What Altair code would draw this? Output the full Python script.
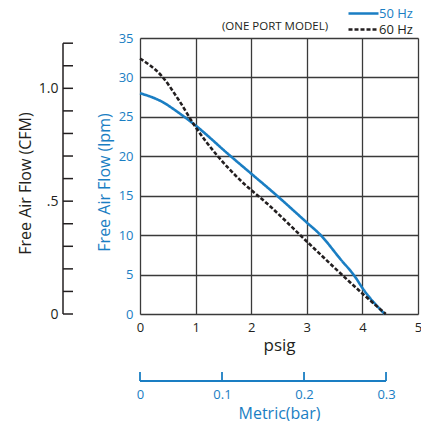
import altair as alt
import pandas as pd

BLUE = "#1a7ec3"
DARK = "#231f20"
FONT = "Open Sans"

# 50 Hz curve (psig, lpm)
psig_50 = [0, 0.4, 0.7, 1.0, 1.6, 2.1, 2.35, 3.0, 3.25, 3.6, 3.87, 4.0, 4.4]
lpm_50 = [28.0, 26.9, 25.5, 23.9, 20.2, 17.2, 15.7, 11.6, 10.0, 7.0, 4.7, 3.3, 0.0]
# 60 Hz curve (psig, lpm)
psig_60 = [0, 0.4, 0.7, 1.0, 1.4, 1.77, 2.35, 3.0, 4.0, 4.42]
lpm_60 = [32.4, 30.1, 27.1, 23.7, 20.0, 17.2, 13.6, 9.2, 2.6, 0.0]

series_names = ["50 Hz", "60 Hz"]
psig_ticks = [0, 1, 2, 3, 4, 5]
lpm_ticks = [0, 5, 10, 15, 20, 25, 30, 35]
cfm_ticks = [0, 0.1, 0.2, 0.3, 0.4, 0.5, 0.6, 0.7, 0.8, 0.9, 1.0, 1.1, 1.2]
cfm_labels = [0, 0.5, 1.0]
bar_ticks = [0, 0.1, 0.2, 0.3]
CFM_DOMAIN_MAX = 1.223   # 35 lpm expressed in CFM on this drawing
BAR_DOMAIN_MAX = 0.339   # 5 psig expressed in bar on this drawing
subtitle_text = ["(ONE PORT MODEL)"]

curves = pd.DataFrame(
    {"psig": psig_50 + psig_60,
     "lpm": lpm_50 + lpm_60,
     "series": [series_names[0]] * len(psig_50) + [series_names[1]] * len(psig_60)}
)

legend_props = dict(title=None, orient="none", legendX=216, legendY=-32,
                    symbolType="M-2.5,0H2.5", symbolSize=144, symbolStrokeWidth=2.6,
                    labelFontSize=13, labelFont=FONT, labelOffset=8, rowPadding=1,
                    labelColor={"expr": f"datum.value === '50 Hz' ? '{BLUE}' : '{DARK}'"})

lines = alt.Chart(curves).mark_line(strokeWidth=2.6, interpolate="monotone").encode(
    x=alt.X("psig:Q", scale=alt.Scale(domain=[0, 5], nice=False),
            axis=alt.Axis(values=psig_ticks, title="psig", grid=True, ticks=False, domain=False,
                          gridColor="#3a3a3a", gridWidth=1.3, labelColor=DARK, labelFontSize=13,
                          labelPadding=7, labelFont=FONT, titleFont=FONT, titleFontSize=17,
                          titleFontWeight="normal", titleColor=DARK, titlePadding=3, labelFlush=False)),
    y=alt.Y("lpm:Q", scale=alt.Scale(domain=[0, 35], nice=False),
            axis=alt.Axis(values=lpm_ticks, title="Free Air Flow (lpm)", grid=True, ticks=False,
                          domain=False, gridColor="#3a3a3a", gridWidth=1.3, labelColor=BLUE,
                          labelFontSize=13, labelPadding=7, labelFont=FONT, titleFont=FONT,
                          titleFontSize=16, titleFontWeight="normal", titleColor=BLUE,
                          titlePadding=6, titleY=144, labelFlush=False)),
    color=alt.Color("series:N", scale=alt.Scale(domain=series_names, range=[BLUE, DARK]),
                    legend=alt.Legend(**legend_props)),
    strokeDash=alt.StrokeDash("series:N", scale=alt.Scale(domain=series_names, range=[[1, 0], [4, 2]]),
                              legend=alt.Legend(**legend_props)),
)

subtitle = alt.Chart(pd.DataFrame({"t": subtitle_text})).mark_text(
    font=FONT, fontSize=11.5, color=DARK, align="center", baseline="middle"
).encode(text="t:N", x=alt.value(135), y=alt.value(-11))

# CFM secondary axis (left, outside)
cfm_df = pd.DataFrame({"cfm": cfm_ticks})
cfm_spine_df = pd.DataFrame({"cfm": [cfm_ticks[0]], "cfm2": [cfm_ticks[-1]]})
cfm_scale = alt.Scale(domain=[0, CFM_DOMAIN_MAX], nice=False)
cfm_tick_layer = alt.Chart(cfm_df).mark_rule(color=DARK, strokeWidth=1.5).encode(
    y=alt.Y("cfm:Q", scale=cfm_scale,
            axis=alt.Axis(orient="left", offset=77, values=cfm_labels, ticks=False, domain=False,
                          grid=False, labelExpr="datum.value == 0 ? '0' : datum.value == 0.5 ? '.5' : format(datum.value, '.1f')",
                          labelFontSize=14, labelColor=DARK, labelFont=FONT, labelPadding=5,
                          title="Free Air Flow (CFM)", titleFont=FONT, titleFontSize=16,
                          titleFontWeight="normal", titleColor=DARK, titlePadding=5, titleY=145)),
    x=alt.value(-77), x2=alt.value(-67),
)
cfm_spine_layer = alt.Chart(cfm_spine_df).mark_rule(color=DARK, strokeWidth=1.5).encode(
    y=alt.Y("cfm:Q", scale=cfm_scale), y2="cfm2:Q", x=alt.value(-77),
)
cfm_layer = alt.layer(cfm_tick_layer, cfm_spine_layer)

# Bar secondary axis (bottom, outside)
bar_df = pd.DataFrame({"bar": bar_ticks})
bar_spine_df = pd.DataFrame({"bar": [bar_ticks[0]], "bar2": [bar_ticks[-1]]})
bar_scale = alt.Scale(domain=[0, BAR_DOMAIN_MAX], nice=False)
bar_tick_layer = alt.Chart(bar_df).mark_rule(color=BLUE, strokeWidth=1.8).encode(
    x=alt.X("bar:Q", scale=bar_scale,
            axis=alt.Axis(orient="bottom", offset=67, values=bar_ticks, ticks=False, domain=False,
                          grid=False, labelExpr="datum.value == 0 ? '0' : format(datum.value, '.1f')",
                          labelFontSize=13, labelColor=BLUE, labelFont=FONT, labelPadding=7,
                          title="Metric(bar)", titleFont=FONT, titleFontSize=16,
                          titleFontWeight="normal", titleColor=BLUE, titlePadding=4, labelFlush=False)),
    y=alt.value(334), y2=alt.value(343),
)
bar_spine_layer = alt.Chart(bar_spine_df).mark_rule(color=BLUE, strokeWidth=1.8).encode(
    x=alt.X("bar:Q", scale=bar_scale), x2="bar2:Q", y=alt.value(343),
)
bar_layer = alt.layer(bar_tick_layer, bar_spine_layer)

chart = alt.layer(lines, subtitle, cfm_layer, bar_layer).resolve_scale(
    x="independent", y="independent"
).properties(
    width=278, height=276,
    autosize=alt.AutoSizeParams(type="none"),
    padding={"left": 132, "top": 30, "right": 3, "bottom": 107},
).configure_view(stroke=DARK, strokeWidth=2).configure(background="white")

chart.save("out.html", embed_options={"renderer": "svg", "actions": False})
